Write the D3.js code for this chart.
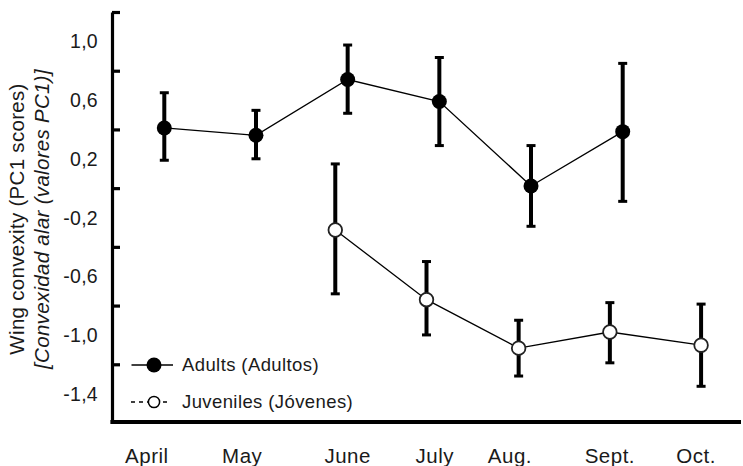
<!DOCTYPE html>
<html>
<head>
<meta charset="utf-8">
<script src="https://cdn.jsdelivr.net/npm/d3@7"></script>
<style>
  html, body { margin: 0; padding: 0; background: #fff; }
  svg { display: block; }
  text { font-family: "Liberation Sans", Arial, Helvetica, sans-serif; fill: #1a1a1a; }
</style>
</head>
<body>
<svg id="chart" width="743" height="466"></svg>
<script>
// ---- Data ----
const months = ["April", "May", "June", "July", "Aug.", "Sept.", "Oct."];
const monthPos = [-0.19, 0.85, 2.0, 2.95, 3.77, 4.86, 5.80];

const adultPos  = [0, 1, 2, 3, 4, 5];
const adultMean = [0.41, 0.36, 0.74, 0.59, 0.015, 0.385];
const adultLow  = [0.19, 0.20, 0.51, 0.29, -0.26, -0.09];
const adultHigh = [0.65, 0.53, 0.975, 0.89, 0.29, 0.85];

const juvPos  = [1.865, 2.86, 3.865, 4.86, 5.855];
const juvMean = [-0.285, -0.76, -1.09, -0.98, -1.07];
const juvLow  = [-0.72, -1.0, -1.28, -1.19, -1.35];
const juvHigh = [0.165, -0.50, -0.90, -0.78, -0.79];

const yTickValues  = [1.2, 0.8, 0.4, 0.0, -0.4, -0.8, -1.2];
const yLabelValues = [1.0, 0.6, 0.2, -0.2, -0.6, -1.0, -1.4];

const seriesNames = ["Adults (Adultos)", "Juveniles (Jóvenes)"];
const titleLines = ["Wing convexity (PC1 scores)", "[Convexidad alar (valores PC1)]"];

// ---- Layout ----
const svg = d3.select("#chart");
const axisX = 112;
const axisBottomY = 422;

const x = d3.scaleLinear().domain([0, 5]).range([164.3, 622.7]);
const y = d3.scaleLinear().domain([-1.6, 1.2]).range([423, 12]);

const adults = adultPos.map((p, i) => ({ x: p, m: adultMean[i], lo: adultLow[i], hi: adultHigh[i] }));
const juvs = juvPos.map((p, i) => ({ x: p, m: juvMean[i], lo: juvLow[i], hi: juvHigh[i] }));

// ---- Y axis ----
const yAxis = d3.axisRight(y).tickValues(yTickValues).tickSize(8).tickSizeOuter(0).tickFormat("");
const gy = svg.append("g").attr("transform", `translate(${axisX},0)`).call(yAxis);
gy.select(".domain").attr("stroke", "#000").attr("stroke-width", 3.2);
gy.selectAll(".tick line").attr("stroke", "#000").attr("stroke-width", 3.2);

const fmt = v => d3.format(".1f")(v).replace(".", ",").replace("−", "-");
svg.append("g").selectAll("text").data(yLabelValues).join("text")
  .attr("x", 98).attr("y", d => y(d)).attr("dy", "0.36em")
  .attr("text-anchor", "end").attr("font-size", 19.5).attr("letter-spacing", 0.3)
  .text(d => fmt(d));

// ---- X axis ----
svg.append("line")
  .attr("x1", axisX - 1.6).attr("x2", 741)
  .attr("y1", axisBottomY).attr("y2", axisBottomY)
  .attr("stroke", "#000").attr("stroke-width", 4);

svg.append("g").selectAll("text").data(months).join("text")
  .attr("x", (d, i) => x(monthPos[i])).attr("y", 463)
  .attr("text-anchor", "middle").attr("font-size", 20.5).attr("letter-spacing", 0.5)
  .text(d => d);

// ---- Title ----
const tg = svg.append("g").attr("transform", "translate(0,219) rotate(-90)");
tg.append("text").attr("x", 0).attr("y", 24).attr("text-anchor", "middle")
  .attr("font-size", 20.5).attr("letter-spacing", 0.3).text(titleLines[0]);
tg.append("text").attr("x", 0).attr("y", 49).attr("text-anchor", "middle")
  .attr("font-size", 20.5).attr("letter-spacing", 0.3).attr("font-style", "italic").text(titleLines[1]);

// ---- Series ----
const line = d3.line().x(d => x(d.x)).y(d => y(d.m));

function drawSeries(data, filled) {
  const g = svg.append("g");
  g.append("path").datum(data).attr("d", line)
    .attr("fill", "none").attr("stroke", "#000").attr("stroke-width", 1.3);
  const eb = g.selectAll("g.eb").data(data).join("g");
  eb.append("line")
    .attr("x1", d => x(d.x)).attr("x2", d => x(d.x))
    .attr("y1", d => y(d.lo)).attr("y2", d => y(d.hi))
    .attr("stroke", "#000").attr("stroke-width", 4);
  eb.append("line")
    .attr("x1", d => x(d.x) - 4.5).attr("x2", d => x(d.x) + 4.5)
    .attr("y1", d => y(d.hi)).attr("y2", d => y(d.hi))
    .attr("stroke", "#000").attr("stroke-width", 3);
  eb.append("line")
    .attr("x1", d => x(d.x) - 4.5).attr("x2", d => x(d.x) + 4.5)
    .attr("y1", d => y(d.lo)).attr("y2", d => y(d.lo))
    .attr("stroke", "#000").attr("stroke-width", 3);
  g.selectAll("circle").data(data).join("circle")
    .attr("cx", d => x(d.x)).attr("cy", d => y(d.m))
    .attr("r", filled ? 7.5 : 6.8)
    .attr("fill", filled ? "#000" : "#fff")
    .attr("stroke", filled ? "#000" : "#222")
    .attr("stroke-width", filled ? 0 : 1.8);
}
drawSeries(adults, true);
drawSeries(juvs, false);

// ---- Legend ----
const lg = svg.append("g");
lg.append("line").attr("x1", 131.5).attr("x2", 173).attr("y1", 365).attr("y2", 365)
  .attr("stroke", "#000").attr("stroke-width", 1.4);
lg.append("circle").attr("cx", 154).attr("cy", 365).attr("r", 7.5).attr("fill", "#000");
lg.append("text").attr("x", 182).attr("y", 365).attr("dy", "0.35em")
  .attr("font-size", 18.5).attr("letter-spacing", 0.4).text(seriesNames[0]);

lg.append("line").attr("x1", 131).attr("x2", 168).attr("y1", 402).attr("y2", 402)
  .attr("stroke", "#000").attr("stroke-width", 1.3).attr("stroke-dasharray", "4,4");
lg.append("circle").attr("cx", 154).attr("cy", 402).attr("r", 5.6)
  .attr("fill", "#fff").attr("stroke", "#000").attr("stroke-width", 1.5);
lg.append("text").attr("x", 182).attr("y", 402).attr("dy", "0.35em")
  .attr("font-size", 18.5).attr("letter-spacing", 0.4).text(seriesNames[1]);
</script>
</body>
</html>
